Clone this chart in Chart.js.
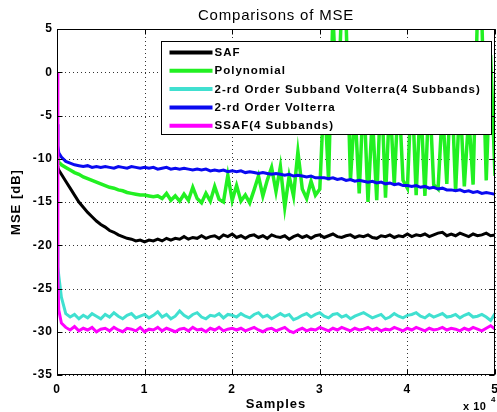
<!DOCTYPE html>
<html lang="en">
<head>
    <meta charset="UTF-8">
    <title>Comparisons of MSE</title>
    <style>
        html, body { margin: 0; padding: 0; background: #fff; }
    </style>
</head>
<body>
    <canvas id="mseChart" width="497" height="412"></canvas>
    <script src="https://cdn.jsdelivr.net/npm/chart.js@4"></script>
    <script>
        // x positions in units of 10^4 samples
        var samples = [0, 0.01, 0.02,
            0.05, 0.10, 0.15, 0.20, 0.25, 0.30, 0.35, 0.40, 0.45, 0.50,
            0.55, 0.60, 0.65, 0.70, 0.75, 0.80, 0.85, 0.90, 0.95, 1.00,
            1.05, 1.10, 1.15, 1.20, 1.25, 1.30, 1.35, 1.40, 1.45, 1.50,
            1.55, 1.60, 1.65, 1.70, 1.75, 1.80, 1.85, 1.90, 1.95, 2.00,
            2.05, 2.10, 2.15, 2.20, 2.25, 2.30, 2.35, 2.40, 2.45, 2.50,
            2.55, 2.60, 2.65, 2.70, 2.75, 2.80, 2.85, 2.90, 2.95, 3.00,
            3.05, 3.10, 3.15, 3.20, 3.25, 3.30, 3.35, 3.40, 3.45, 3.50,
            3.55, 3.60, 3.65, 3.70, 3.75, 3.80, 3.85, 3.90, 3.95, 4.00,
            4.05, 4.10, 4.15, 4.20, 4.25, 4.30, 4.35, 4.40, 4.45, 4.50,
            4.55, 4.60, 4.65, 4.70, 4.75, 4.80, 4.85, 4.90, 4.95, 5.00];

        var safMse = [-10.8, -11.0, -11.3,
            -11.8, -12.6, -13.4, -14.2, -15.0, -15.6, -16.2, -16.7, -17.2, -17.6,
            -17.9, -18.3, -18.5, -18.8, -19.0, -19.2, -19.3, -19.5, -19.4, -19.6,
            -19.4, -19.5, -19.3, -19.5, -19.2, -19.4, -19.2, -19.3, -19.0, -19.3,
            -19.1, -19.2, -18.9, -19.2, -19.0, -18.9, -19.2, -18.8, -19.0, -18.7,
            -19.1, -18.9, -19.2, -18.9, -18.8, -19.1, -18.9, -19.2, -18.8, -19.0,
            -19.1, -18.9, -19.3, -19.0, -18.8, -19.1, -18.9, -19.2, -18.9, -18.8,
            -19.1, -18.9, -18.7, -19.0, -19.1, -18.9, -18.8, -19.1, -18.9, -19.0,
            -18.8, -19.1, -19.2, -18.9, -19.0, -18.8, -19.1, -18.9, -19.0, -18.7,
            -19.0, -18.8, -18.9, -18.7, -19.0, -18.8, -18.6, -18.5, -18.9, -18.7,
            -18.9, -18.6, -18.8, -19.0, -18.7, -18.9, -18.8, -18.6, -18.9, -18.8];

        var polyMse = [-9.5, -10.0, -10.4,
            -10.7, -11.0, -11.3, -11.6, -11.8, -12.1, -12.3, -12.5, -12.7, -12.9,
            -13.1, -13.3, -13.4, -13.6, -13.7, -13.9, -14.0, -14.1, -14.2, -14.2,
            -14.3, -14.4, -14.3, -14.6, -14.0, -14.8, -14.3, -14.9, -14.1, -14.8,
            -13.3, -14.6, -15.1, -14.0, -14.9, -13.2, -14.7, -15.0, -11.9, -14.8,
            -13.1, -14.9, -14.2, -15.1, -13.6, -12.0, -14.3, -12.5, -11.0, -13.8,
            -10.9, -15.6, -12.0, -14.3, -9.2, -13.5, -14.6, -12.6, -14.2, -13.5,
            -2.0, -12.5, 7.0, -6.0, 8.0, 6.0, -12.5, -4.0, -14.0, -2.0,
            -15.0, -5.0, -14.8, -1.0, -14.5, -3.0, -13.0, -2.0, -12.5, -13.4,
            -1.0, -14.2, -3.0, -14.3, -2.0, -13.0, -13.5, -4.0, -12.9, 0.0,
            -13.8, -3.0, -13.2, -5.0, -13.0, 7.0, 6.0, -12.5, 2.0, -12.0];

        var subVolterraMse = [-20.0, -22.5, -23.5,
            -26.0, -27.9, -28.3, -28.0, -28.5, -28.1, -28.4, -27.9, -28.2, -28.5,
            -28.0, -28.3, -27.8, -28.2, -28.5, -28.1, -27.9, -28.4, -28.2, -28.0,
            -28.4, -28.1, -27.7, -28.3, -28.0, -28.5, -28.2, -27.6, -28.1, -28.4,
            -28.0, -27.8, -28.3, -28.5, -28.1, -28.2, -27.9, -28.4, -28.0, -28.1,
            -28.3, -27.9, -28.2, -28.4, -28.0, -27.8, -28.3, -28.1, -28.5, -28.2,
            -27.9, -28.2, -28.0, -28.6, -28.4, -28.1, -27.9, -28.3, -28.0, -27.8,
            -28.2, -28.4, -28.0, -27.9, -28.3, -28.1, -28.5, -28.2, -28.0, -27.8,
            -28.1, -28.4, -28.2, -28.0, -28.5, -28.3, -27.9, -28.2, -28.4, -28.1,
            -28.0, -27.8, -28.2, -28.4, -28.0, -28.3, -28.1, -27.9, -28.3, -28.2,
            -28.0, -28.4, -28.1, -27.9, -28.3, -28.2, -28.0, -28.3, -28.7, -27.9];

        var volterraMse = [-6.0, -8.5, -9.3,
            -9.8, -10.3, -10.5, -10.7, -10.8, -10.9, -10.8, -11.0, -10.9, -11.0,
            -10.9, -11.0, -11.1, -10.9, -11.0, -11.1, -10.9, -11.0, -11.1, -11.0,
            -11.1, -11.0, -11.2, -11.1, -11.0, -11.2, -11.1, -11.2, -11.1, -11.2,
            -11.3, -11.2, -11.3, -11.2, -11.4, -11.3, -11.4, -11.3, -11.5, -11.4,
            -11.5, -11.4, -11.6, -11.5, -11.6, -11.7, -11.6, -11.7, -11.8, -11.7,
            -11.8, -11.9, -11.8, -12.0, -11.9, -12.0, -12.1, -12.0, -12.2, -12.2,
            -12.2, -12.3, -12.2, -12.4, -12.3, -12.5, -12.4, -12.6, -12.5, -12.6,
            -12.7, -12.6, -12.8, -12.7, -12.9, -12.8, -13.0, -12.9, -13.1, -13.1,
            -13.2, -13.1, -13.3, -13.2, -13.4, -13.3, -13.5, -13.4, -13.6, -13.6,
            -13.7, -13.6, -13.8, -13.7, -13.9, -13.8, -14.0, -13.9, -14.0, -14.1];

        var ssafMse = [0.0, -24.0, -27.5,
            -29.0, -29.5, -29.8, -29.4, -29.9, -29.6, -29.8, -29.5, -30.0, -29.7,
            -29.6, -29.9, -29.5, -29.8, -30.0, -29.6, -29.7, -29.9, -29.5, -30.0,
            -29.7, -29.8, -29.5, -29.9, -29.6, -29.8, -30.0, -29.7, -29.6, -29.9,
            -29.5, -29.8, -29.7, -30.0, -29.6, -29.8, -29.5, -29.9, -29.7, -29.6,
            -29.8, -29.6, -29.9, -29.7, -29.5, -29.8, -30.0, -29.7, -29.6, -29.9,
            -29.7, -29.5, -29.9, -30.1, -29.8, -29.6, -29.9, -29.7, -29.8, -29.5,
            -29.7, -29.9, -29.6, -29.8, -29.5, -29.7, -29.9, -29.6, -29.8, -29.7,
            -29.5, -29.8, -29.6, -29.9, -29.7, -29.8, -29.5, -29.7, -29.9, -29.6,
            -29.8, -29.5, -29.7, -29.9, -29.6, -29.8, -29.7, -29.5, -29.8, -29.6,
            -29.7, -29.9, -29.6, -29.8, -29.5, -29.7, -29.9, -29.6, -29.3, -29.7];

        var seriesNames = ['SAF', 'Polynomial', '2-rd Order Subband Volterra(4 Subbands)', '2-rd Order Volterra', 'SSAF(4 Subbands)'];
        var seriesColors = ['#000000', '#22f022', '#40e0d0', '#0a0af0', '#ff00ff'];
        var seriesWidths = [3, 3.5, 3, 3, 3];
        var seriesValues = [safMse, polyMse, subVolterraMse, volterraMse, ssafMse];

        var FONT = 'Liberation Sans, Arial, sans-serif';

        function toPoints(ys) {
            return samples.map(function (x, i) { return { x: x, y: ys[i] }; });
        }

        // grid, box, inward ticks, legend, title -- matlab look
        var matlabAxes = {
            id: 'matlabAxes',
            beforeDraw: function (chart) {
                chart.ctx.letterSpacing = '1px';
            },
            beforeDatasetsDraw: function (chart) {
                var ctx = chart.ctx, a = chart.chartArea;
                var xs = chart.scales.x, ys = chart.scales.y;
                ctx.save();
                ctx.strokeStyle = '#333';
                ctx.lineWidth = 1;
                ctx.setLineDash([1, 3]);
                xs.ticks.forEach(function (t) {
                    var px = Math.round(xs.getPixelForValue(t.value)) + 0.5;
                    ctx.beginPath(); ctx.moveTo(px, a.top); ctx.lineTo(px, a.bottom); ctx.stroke();
                });
                ys.ticks.forEach(function (t) {
                    var py = Math.round(ys.getPixelForValue(t.value)) + 0.5;
                    ctx.beginPath(); ctx.moveTo(a.left, py); ctx.lineTo(a.right, py); ctx.stroke();
                });
                ctx.restore();
            },
            afterDatasetsDraw: function (chart) {
                var ctx = chart.ctx, a = chart.chartArea;
                var xs = chart.scales.x, ys = chart.scales.y;
                var L = Math.round(a.left) + 0.5, R = Math.round(a.right) - 0.5;
                var T = Math.round(a.top) + 0.5, B = Math.round(a.bottom) - 0.5;
                ctx.save();
                ctx.strokeStyle = '#000';
                ctx.lineWidth = 1;
                ctx.strokeRect(L, T, R - L, B - T);
                // ticks inside
                ctx.beginPath();
                xs.ticks.forEach(function (t) {
                    var px = Math.round(xs.getPixelForValue(t.value)) + 0.5;
                    ctx.moveTo(px, B); ctx.lineTo(px, B - 5);
                    ctx.moveTo(px, T); ctx.lineTo(px, T + 5);
                });
                ys.ticks.forEach(function (t) {
                    var py = Math.round(ys.getPixelForValue(t.value)) + 0.5;
                    ctx.moveTo(L, py); ctx.lineTo(L + 5, py);
                    ctx.moveTo(R, py); ctx.lineTo(R - 5, py);
                });
                ctx.stroke();

                // legend box
                var lw = 330, lh = 93;
                var lx = Math.round(a.right - 4 - lw) + 0.5, ly = Math.round(a.top + 12) + 0.5;
                ctx.fillStyle = '#fff';
                ctx.fillRect(lx, ly, lw, lh);
                ctx.strokeRect(lx, ly, lw, lh);
                ctx.font = 'bold 11.5px ' + FONT;
                ctx.letterSpacing = '1px';
                ctx.textBaseline = 'middle';
                ctx.textAlign = 'left';
                chart.data.datasets.forEach(function (ds, i) {
                    var ry = ly + 11 + i * 18.3;
                    ctx.strokeStyle = ds.borderColor;
                    ctx.lineWidth = 4;
                    ctx.beginPath(); ctx.moveTo(lx + 8, ry); ctx.lineTo(lx + 51, ry); ctx.stroke();
                    ctx.fillStyle = '#000';
                    ctx.fillText(ds.label, lx + 53, ry + 0.5);
                });
                ctx.restore();
            },
            afterDraw: function (chart) {
                var ctx = chart.ctx, a = chart.chartArea;
                ctx.save();
                ctx.fillStyle = '#000';
                ctx.textAlign = 'center';
                ctx.textBaseline = 'middle';
                ctx.font = '15px ' + FONT;
                ctx.letterSpacing = '0.8px';
                ctx.fillText('Comparisons of MSE', (a.left + a.right) / 2, 16);
                // exponent label
                ctx.textAlign = 'left';
                ctx.textBaseline = 'alphabetic';
                ctx.letterSpacing = '0.5px';
                ctx.font = 'bold 11px ' + FONT;
                ctx.fillText('x 10', 463, 410);
                ctx.font = 'bold 8px ' + FONT;
                ctx.fillText('4', 491, 402);
                ctx.restore();
            }
        };

        var tickFont = { family: FONT, size: 12, weight: 'bold' };
        var titleFont = { family: FONT, size: 13, weight: 'bold' };

        var mseChart = new Chart(document.getElementById('mseChart').getContext('2d'), {
            type: 'line',
            data: {
                datasets: seriesValues.map(function (vals, i) {
                    return {
                        label: seriesNames[i],
                        data: toPoints(vals),
                        borderColor: seriesColors[i],
                        backgroundColor: seriesColors[i],
                        borderWidth: seriesWidths[i],
                        pointRadius: 0,
                        tension: 0,
                        fill: false,
                        clip: 0,
                        order: seriesValues.length - i
                    };
                })
            },
            options: {
                responsive: false,
                animation: false,
                events: [],
                layout: { autoPadding: false, padding: { top: 29, right: 2, left: 0, bottom: 0 } },
                plugins: {
                    legend: { display: false },
                    title: { display: false },
                    tooltip: { enabled: false }
                },
                scales: {
                    x: {
                        type: 'linear',
                        min: 0,
                        max: 5,
                        grid: { display: false, drawTicks: false },
                        border: { display: false },
                        ticks: { stepSize: 1, padding: 7, color: '#000', font: tickFont, maxRotation: 0 },
                        title: { display: true, text: 'Samples', color: '#000', font: titleFont, padding: { top: 0, bottom: 0 } },
                        afterFit: function (scale) {
                            scale.height = 37;
                            scale.paddingLeft = 0;
                            scale.paddingRight = 0;
                        }
                    },
                    y: {
                        min: -35,
                        max: 5,
                        grid: { display: false, drawTicks: false },
                        border: { display: false },
                        ticks: { stepSize: 5, padding: 4, color: '#000', font: tickFont },
                        title: { display: true, text: 'MSE [dB]', color: '#000', font: titleFont, padding: { top: 9, bottom: 0 } },
                        afterFit: function (scale) { scale.width = 57; }
                    }
                }
            },
            plugins: [matlabAxes]
        });
    </script>
</body>
</html>
